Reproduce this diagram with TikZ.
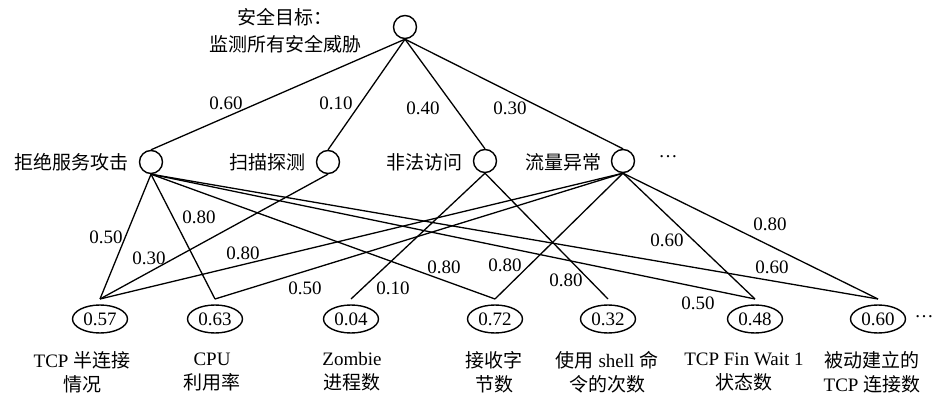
\documentclass[tikz,border=0pt]{standalone}
\usepackage{fontspec}
\setmainfont{Liberation Serif}
\newfontfamily\cjk{Noto Sans CJK SC}
\usetikzlibrary{shapes.geometric}

\begin{document}
\begin{tikzpicture}[x=1pt,y=-1pt,
  every node/.style={inner sep=0pt, font=\fontsize{19}{24}\selectfont},
  goal/.style={circle, draw, line width=1.4pt, minimum size=23pt},
  leaf/.style={ellipse, draw, line width=1.4pt, minimum width=55pt,
               minimum height=28pt, outer ysep=6pt},
  link/.style={line width=1.3pt},
  caption/.style={align=center},
]
\useasboundingbox (0,0) rectangle (935,398);

% goal at the root
\node[goal] (top) at (405,27) {};
\node[caption, font=\fontsize{19}{27}\selectfont] (toplbl) at (285,31)
  {{\cjk 安全目标：}\\{\cjk 监测所有安全威胁}};

% threat categories
\node[goal] (dos)  at (151,162) {};
\node[goal] (scan) at (328,162) {};
\node[goal] (ill)  at (485,161) {};
\node[goal] (flow) at (623,161) {};
\node[anchor=east] (dosl)  at (129,162) {\cjk 拒绝服务攻击};
\node[anchor=east] (scanl) at (306,162) {\cjk 扫描探测};
\node[anchor=east] (illl)  at (463,162) {\cjk 非法访问};
\node[anchor=east] (flowl) at (602,162) {\cjk 流量异常};
\node (more1) at (668,157) {…};

% measured indicators
\node[leaf] (m1) at (100,319) {0.57};
\node[leaf] (m2) at (215,319) {0.63};
\node[leaf] (m3) at (351,319) {0.04};
\node[leaf] (m4) at (495,319) {0.72};
\node[leaf] (m5) at (608,319) {0.32};
\node[leaf] (m6) at (755,319) {0.48};
\node[leaf] (m7) at (878,319) {0.60};
\node (more2) at (924,317) {…};

\node[caption] (c1) at (82,372)  {TCP {\cjk 半连接}\\{\cjk 情况}};
\node[caption] (c2) at (212,372) {CPU\\{\cjk 利用率}};
\node[caption] (c3) at (352,372) {Zombie\\{\cjk 进程数}};
\node[caption] (c4) at (494,372) {{\cjk 接收字}\\{\cjk 节数}};
\node[caption] (c5) at (607,372) {{\cjk 使用} shell {\cjk 命}\\{\cjk 令的次数}};
\node[caption] (c6) at (744,372) {TCP Fin Wait 1\\{\cjk 状态数}};
\node[caption] (c7) at (872,372) {{\cjk 被动建立的}\\TCP {\cjk 连接数}};

% root to categories
\draw[link] (top.south) -- (dos.north);
\draw[link] (top.south) -- (scan.north);
\draw[link] (top.south) -- (ill.north);
\draw[link] (top.south) -- (flow.north);
\node (w1) at (226,103) {0.60};
\node (w2) at (336,103) {0.10};
\node (w3) at (423,108) {0.40};
\node (w4) at (510,108) {0.30};

% categories to indicators
\draw[link] (dos.south) -- (m1.north);
\draw[link] (dos.south) -- (m2.north);
\draw[link] (dos.south) -- (m4.north);
\draw[link] (dos.south) -- (m6.north);
\draw[link] (dos.south) -- (m7.north);
\draw[link] (scan.south) -- (m1.north);
\draw[link] (ill.south) -- (m3.north);
\draw[link] (ill.south) -- (m5.north);
\draw[link] (flow.south) -- (m1.north);
\draw[link] (flow.south) -- (m2.north);
\draw[link] (flow.south) -- (m4.north);
\draw[link] (flow.south) -- (m6.north);
\draw[link] (flow.south) -- (m7.north);

\node (v1)  at (106,237) {0.50};
\node (v2)  at (199,217) {0.80};
\node (v3)  at (149,258) {0.30};
\node (v4)  at (243,253) {0.80};
\node (v5)  at (305,288) {0.50};
\node (v6)  at (393,288) {0.10};
\node (v7)  at (444,267) {0.80};
\node (v8)  at (505,265) {0.80};
\node (v9)  at (566,280) {0.80};
\node (v10) at (667,240) {0.60};
\node (v11) at (698,303) {0.50};
\node (v12) at (770,224) {0.80};
\node (v13) at (772,267) {0.60};
\end{tikzpicture}
\end{document}
